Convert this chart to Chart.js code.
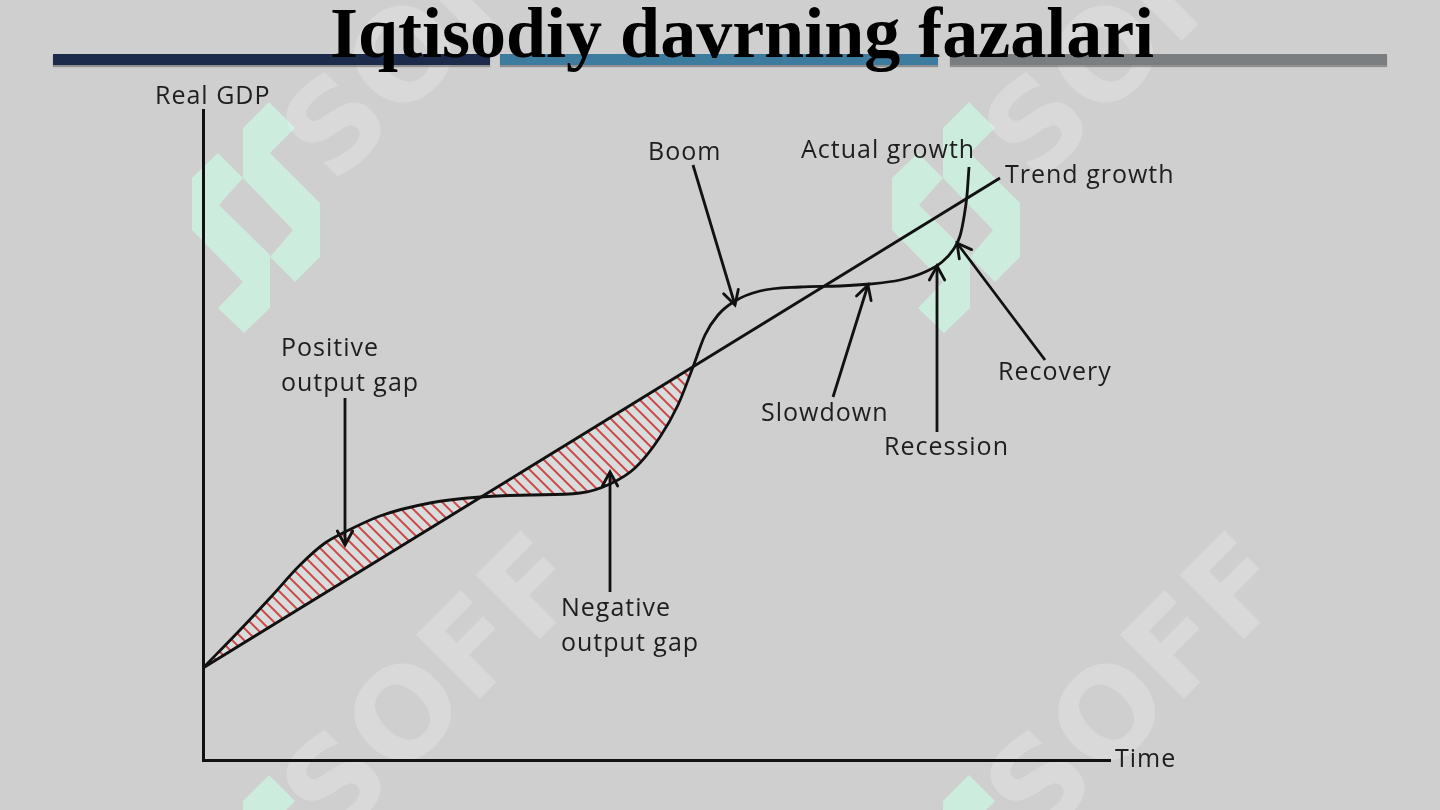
<!DOCTYPE html>
<html>
<head>
<meta charset="utf-8">
<title>Iqtisodiy davrning fazalari</title>
<script src="https://cdn.jsdelivr.net/npm/chart.js@4.4.1/dist/chart.umd.min.js"></script>
<style>
  html, body { margin: 0; padding: 0; background: #cfcfcf; width: 1440px; height: 810px; overflow: hidden; }
  #wrap { position: relative; width: 1440px; height: 810px; }
  canvas { position: absolute; left: 0; top: 0; z-index: 1; }
  .bar { position: absolute; top: 54px; height: 11px; box-shadow: 0 2px 1px rgba(0, 0, 0, 0.3); z-index: 2; }
  h1 { position: absolute; left: 330px; top: -3px; margin: 0; font: bold 72px/72px "Liberation Serif", "Times New Roman", serif; color: #000; z-index: 3; white-space: nowrap; }
</style>
</head>
<body>
<div id="wrap">
  <canvas id="cycleChart" width="1440" height="810"></canvas>
  <div class="bar" style="left:53px;width:437px;background:#1c2b4b"></div>
  <div class="bar" style="left:500px;width:438px;background:#3d7c9f"></div>
  <div class="bar" style="left:950px;width:437px;background:#7b7e81"></div>
  <h1>Iqtisodiy davrning fazalari</h1>
</div>
<script>
// Trend growth (straight line)
const trendX = [0, 79.7];
const trendY = [9.2, 58.2];

// Actual growth curve
const actualX = [0, 3.7, 6.7, 9.7, 12.2, 14.2, 17.7, 22.7, 27.7, 32.7, 37.7, 40.7, 43.2, 45.7, 47.5, 49.0,
                 50.2, 51.5, 53.2, 55.7, 59.7, 63.7, 66.7, 69.7, 72.2, 73.9, 75.0, 75.7, 76.1, 76.4, 76.6];
const actualY = [9.2, 13.0, 16.2, 19.5, 21.7, 22.8, 24.4, 25.7, 26.3, 26.5, 26.7, 27.6, 29.2, 32.3, 35.5, 39.3,
                 42.5, 44.5, 45.9, 46.9, 47.3, 47.4, 47.6, 48.0, 48.8, 49.8, 51.0, 52.4, 54.3, 56.5, 59.3];

// second crossing of actual and trend - the hatched output gap stops here
const gapEndX = 49.0;
const gapEndY = 39.3;

// arrows pointing at the phases
const arrowFrom = [[14.2, 36.2], [40.7, 16.8], [49.0, 59.5], [63.0, 36.3], [73.4, 32.8], [84.2, 40.0]];
const arrowTo = [[14.2, 21.5], [40.7, 28.8], [53.2, 45.5], [66.5, 47.5], [73.4, 49.4], [75.4, 51.7]];

// text labels (left edge, vertical middle)
const labelText = ['Real GDP', 'Time', 'Positive', 'output gap', 'Negative', 'output gap',
                   'Boom', 'Actual growth', 'Trend growth', 'Slowdown', 'Recession', 'Recovery'];
const labelX = [-4.8, 91.2, 7.8, 7.8, 35.8, 35.8, 44.5, 59.8, 80.2, 55.8, 68.1, 79.5];
const labelY = [66.3, 0.0, 41.1, 37.6, 15.1, 11.6, 60.7, 60.9, 58.4, 34.6, 31.2, 38.7];

const toPts = (xs, ys) => xs.map((x, i) => ({ x: x, y: ys[i] }));

// red diagonal hatching for the gaps
function makeHatch() {
    const s = 12;
    const tile = document.createElement('canvas');
    tile.width = s;
    tile.height = s;
    const t = tile.getContext('2d');
    t.fillStyle = 'rgba(222, 232, 232, 0.6)';
    t.fillRect(0, 0, s, s);
    t.strokeStyle = '#d04a4a';
    t.lineWidth = 2;
    t.beginPath();
    t.moveTo(-1, -1); t.lineTo(s + 1, s + 1);
    t.moveTo(s - 2, -2); t.lineTo(s + 2, 2);
    t.moveTo(-2, s - 2); t.lineTo(2, s + 2);
    t.stroke();
    return document.getElementById('cycleChart').getContext('2d').createPattern(tile, 'repeat');
}

// background watermark (logo + rotated text)
const logoLeft = [[192,178],[218,153],[243,178],[219,205],[270,255],[270,308],[244,333],[218,308],[243,282],[192,230]];
const logoRight = [[243,128],[269,102],[295,128],[270,153],[320,203],[320,257],[295,282],[270,257],[293,230],[243,178]];
const logoShift = [[0, 0], [700, 0], [0, 673], [700, 673]];
const wmText = [[440, 35], [1142, 35], [440, 693], [1144, 693]];

const watermark = {
    id: 'watermark',
    beforeDraw(chart) {
        const ctx = chart.ctx;
        ctx.save();
        ctx.fillStyle = '#ccecdd';
        logoShift.forEach(([dx, dy]) => {
            [logoLeft, logoRight].forEach(poly => {
                ctx.beginPath();
                poly.forEach(([x, y], i) => i ? ctx.lineTo(x + dx, y + dy) : ctx.moveTo(x + dx, y + dy));
                ctx.closePath();
                ctx.fill();
            });
        });
        ctx.fillStyle = 'rgba(255, 255, 255, 0.22)';
        ctx.font = 'bold 124px "DejaVu Sans"';
        ctx.textAlign = 'center';
        ctx.textBaseline = 'middle';
        wmText.forEach(([x, y]) => {
            ctx.save();
            ctx.translate(x, y);
            ctx.rotate(-Math.PI / 4);
            ctx.fillText('SOFF', 0, 0);
            ctx.restore();
        });
        ctx.restore();
    }
};

const arrowHeads = {
    id: 'arrowHeads',
    afterDatasetsDraw(chart) {
        const ctx = chart.ctx;
        chart.data.datasets.forEach((ds, i) => {
            if (!ds.arrow) return;
            const pts = chart.getDatasetMeta(i).data;
            const a = pts[0], b = pts[1];
            const ang = Math.atan2(b.y - a.y, b.x - a.x);
            const len = 16, spread = 0.5;
            ctx.save();
            ctx.strokeStyle = '#111';
            ctx.lineWidth = 2.8;
            ctx.lineCap = 'round';
            ctx.beginPath();
            ctx.moveTo(b.x - len * Math.cos(ang - spread), b.y - len * Math.sin(ang - spread));
            ctx.lineTo(b.x, b.y);
            ctx.lineTo(b.x - len * Math.cos(ang + spread), b.y - len * Math.sin(ang + spread));
            ctx.stroke();
            ctx.restore();
        });
    }
};

const labels = {
    id: 'labels',
    afterDraw(chart) {
        const ctx = chart.ctx;
        const xs = chart.scales.x, ys = chart.scales.y;
        ctx.save();
        ctx.font = '25px "Open Sans"';
        ctx.letterSpacing = '1px';
        ctx.fillStyle = '#1e1e1e';
        ctx.textAlign = 'left';
        ctx.textBaseline = 'middle';
        labelText.forEach((txt, i) => {
            ctx.fillText(txt, xs.getPixelForValue(labelX[i]), ys.getPixelForValue(labelY[i]));
        });
        ctx.restore();
    }
};

const line = { borderColor: '#111', borderWidth: 2.8, pointRadius: 0, fill: false };
const clear = 'rgba(0, 0, 0, 0)';

const datasets = [
    Object.assign({ label: 'Actual growth', data: toPts(actualX, actualY), cubicInterpolationMode: 'monotone', order: 1 }, line),
    Object.assign({ label: 'Trend growth', data: toPts(trendX, trendY), order: 2 }, line)
];
arrowFrom.forEach((f, i) => {
    datasets.push(Object.assign({
        label: 'arrow' + i,
        data: [{ x: f[0], y: f[1] }, { x: arrowTo[i][0], y: arrowTo[i][1] }],
        arrow: true,
        order: 3
    }, line));
});
// hatched output gap: actual curve up to the crossing, filled to the trend below it
datasets.push({
    label: 'Output gap',
    data: toPts(actualX, actualY).filter(p => p.x <= gapEndX),
    cubicInterpolationMode: 'monotone',
    borderColor: clear,
    borderWidth: 1,
    pointRadius: 0,
    backgroundColor: makeHatch(),
    fill: '+1',
    order: 10
});
datasets.push({
    label: 'Trend base',
    data: [{ x: trendX[0], y: trendY[0] }, { x: gapEndX, y: gapEndY }],
    borderColor: clear,
    borderWidth: 1,
    pointRadius: 0,
    fill: false,
    order: 11
});

const axis = (max) => ({
    type: 'linear',
    min: 0,
    max: max,
    grid: { display: false, drawTicks: false },
    ticks: { display: false },
    border: { display: true, color: '#111', width: 3 }
});

new Chart(document.getElementById('cycleChart'), {
    type: 'line',
    data: { datasets: datasets },
    options: {
        responsive: false,
        animation: false,
        events: [],
        layout: { padding: { left: 203, right: 330, top: 110, bottom: 50 } },
        scales: { x: axis(90.7), y: axis(65) },
        plugins: {
            legend: { display: false },
            tooltip: { enabled: false }
        }
    },
    plugins: [watermark, arrowHeads, labels]
});
</script>
</body>
</html>
